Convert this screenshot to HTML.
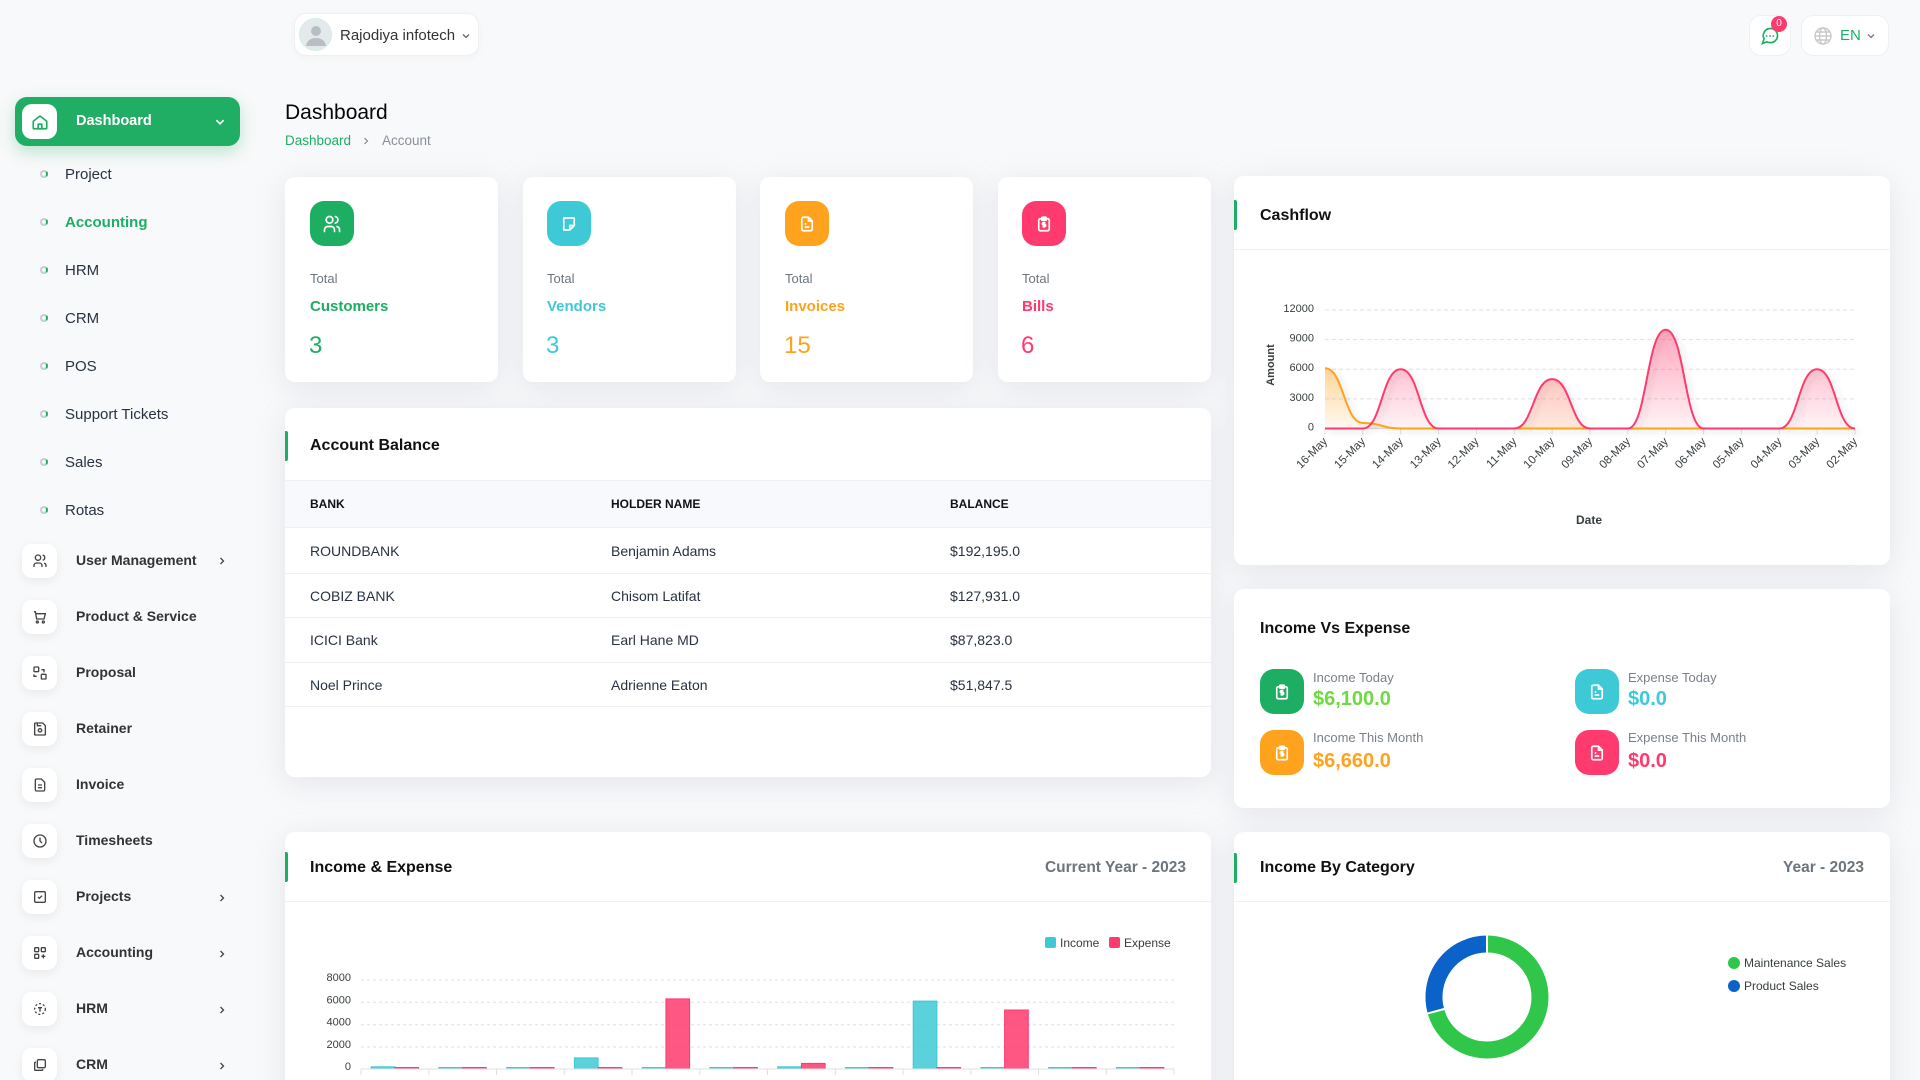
<!DOCTYPE html>
<html><head><meta charset="utf-8"><title>Dashboard</title>
<style>
*{box-sizing:border-box;margin:0;padding:0}
html,body{width:1920px;height:1080px;overflow:hidden}
body{background:#f8f9fa;font-family:"Liberation Sans",Arial,sans-serif;color:#293240;position:relative}
.t{position:absolute;white-space:nowrap;height:20px;line-height:20px}
.card{position:absolute;background:#fff;border-radius:10px;box-shadow:0 6px 30px rgba(182,186,203,.30)}
.gb{position:absolute;width:3px;height:30px;background:#1eae63;border-radius:0 2px 2px 0}
.ib{position:absolute;width:35px;height:34px;left:22px;background:#fff;border-radius:10px;box-shadow:0 3px 10px rgba(0,0,0,.07);display:flex;align-items:center;justify-content:center}
.mi{position:absolute;left:76px;font-size:14px;font-weight:700;color:#333;white-space:nowrap;height:20px;line-height:20px}
.si{position:absolute;left:65px;font-size:15px;color:#293240;height:20px;line-height:20px;white-space:nowrap}
.dot{position:absolute;left:40px;width:8px;height:8px;border-radius:50%;border:2px solid #c9cdd4;border-right-color:#1eae63}
.sq{position:absolute;width:44px;height:45px;border-radius:14px;display:flex;align-items:center;justify-content:center}
.th{position:absolute;font-size:12px;font-weight:700;color:#111;height:20px;line-height:20px}
.td{position:absolute;font-size:14px;color:#293240;height:20px;line-height:20px;white-space:nowrap}
.hl{position:absolute;left:285px;width:926px;height:1px;background:#eef0f3}
</style></head><body>

<!-- Header -->
<div style="position:absolute;left:294px;top:13px;width:185px;height:43px;background:#fff;border:1px solid #eef0f2;border-radius:12px;box-shadow:0 2px 8px rgba(0,0,0,.03)"></div>
<div style="position:absolute;left:299px;top:18px;width:33px;height:33px;border-radius:50%;background:#e4eaec;border:1px solid #d4efe0;overflow:hidden">
<svg width="33" height="33" viewBox="0 0 33 33"><circle cx="16" cy="12" r="5" fill="#b6bfc4"/><path d="M6 27c1-6 5-8 10-8s9 2 10 8z" fill="#b6bfc4"/></svg></div>
<div class="t" style="left:340px;top:26px;font-size:15px;color:#333">Rajodiya infotech</div>
<svg style="position:absolute;left:461px;top:31px" width="10" height="10" viewBox="0 0 10 10"><path d="M2 3.5l3 3 3-3" fill="none" stroke="#666" stroke-width="1.3"/></svg>

<div style="position:absolute;left:1749px;top:15px;width:42px;height:41px;background:#fff;border:1px solid #eef0f2;border-radius:12px"></div>
<svg style="position:absolute;left:1760px;top:26px" width="20" height="20" viewBox="0 0 24 24" fill="none" stroke="#1eae63" stroke-width="2"><path d="M21 11.5a8.4 8.4 0 0 1-9 8.4 8.5 8.5 0 0 1-3.8-.9L3 21l1.9-5.7A8.4 8.4 0 0 1 12 3a8.4 8.4 0 0 1 9 8.5z"/><path d="M8 12h.01M12 12h.01M16 12h.01" stroke-linecap="round" stroke-width="2.2"/></svg>
<div style="position:absolute;left:1771px;top:16px;width:16px;height:16px;border-radius:50%;background:#ff3a6e;color:#fff;font-size:10px;line-height:16px;text-align:center">0</div>

<div style="position:absolute;left:1801px;top:15px;width:88px;height:41px;background:#fff;border:1px solid #eef0f2;border-radius:12px"></div>
<svg style="position:absolute;left:1813px;top:26px" width="20" height="20" viewBox="0 0 20 20" fill="none" stroke="#c8c8c8" stroke-width="1.4"><circle cx="10" cy="10" r="8"/><ellipse cx="10" cy="10" rx="3.5" ry="8"/><path d="M2 10h16M3.5 6h13M3.5 14h13"/></svg>
<div class="t" style="left:1840px;top:26px;font-size:15px;color:#1eae63">EN</div>
<svg style="position:absolute;left:1866px;top:31px" width="10" height="10" viewBox="0 0 10 10"><path d="M2 3.5l3 3 3-3" fill="none" stroke="#777" stroke-width="1.3"/></svg>

<!-- Sidebar -->
<div style="position:absolute;left:15px;top:97px;width:225px;height:49px;background:#1fae64;border-radius:12px;box-shadow:0 6px 16px rgba(31,174,100,.28)"></div>
<div style="position:absolute;left:22px;top:104px;width:35px;height:35px;background:#fff;border-radius:10px;display:flex;align-items:center;justify-content:center">
<svg width="18" height="18" viewBox="0 0 24 24" fill="none" stroke="#1eae63" stroke-width="2.2" stroke-linejoin="round"><path d="M3 11l9-7 9 7v9a1 1 0 0 1-1 1H4a1 1 0 0 1-1-1z"/><path d="M9.5 21v-6h5v6"/></svg></div>
<div class="t" style="left:76px;top:111px;font-size:14.5px;font-weight:700;color:#fff">Dashboard</div>
<svg style="position:absolute;left:214px;top:116px" width="12" height="12" viewBox="0 0 10 10"><path d="M2 3.5l3 3 3-3" fill="none" stroke="#fff" stroke-width="1.4"/></svg>

<div class="dot" style="top:170px"></div><div class="si" style="top:165px">Project</div>
<div class="dot" style="top:218px"></div><div class="si" style="top:213px;color:#1eae63;font-weight:700">Accounting</div>
<div class="dot" style="top:266px"></div><div class="si" style="top:261px">HRM</div>
<div class="dot" style="top:314px"></div><div class="si" style="top:309px">CRM</div>
<div class="dot" style="top:362px"></div><div class="si" style="top:357px">POS</div>
<div class="dot" style="top:410px"></div><div class="si" style="top:405px">Support Tickets</div>
<div class="dot" style="top:458px"></div><div class="si" style="top:453px">Sales</div>
<div class="dot" style="top:506px"></div><div class="si" style="top:501px">Rotas</div>

<!-- main menu -->
<div class="ib" style="top:544px"><svg width="16" height="16" viewBox="0 0 24 24" fill="none" stroke="#444" stroke-width="2"><circle cx="9" cy="7" r="4"/><path d="M3 21v-2a4 4 0 0 1 4-4h4a4 4 0 0 1 4 4v2M16 3.1a4 4 0 0 1 0 7.8M21 21v-2a4 4 0 0 0-3-3.9"/></svg></div>
<div class="mi" style="top:550px">User Management</div>
<svg style="position:absolute;left:217px;top:556px" width="10" height="10" viewBox="0 0 10 10"><path d="M3.5 2l3 3-3 3" fill="none" stroke="#444" stroke-width="1.3"/></svg>

<div class="ib" style="top:600px"><svg width="16" height="16" viewBox="0 0 24 24" fill="none" stroke="#444" stroke-width="2"><path d="M3 4h2l2 11h11l2-8H6.5"/><circle cx="8" cy="19.5" r="1.5"/><circle cx="17" cy="19.5" r="1.5"/></svg></div>
<div class="mi" style="top:606px">Product &amp; Service</div>

<div class="ib" style="top:656px"><svg width="16" height="16" viewBox="0 0 24 24" fill="none" stroke="#444" stroke-width="2"><rect x="3" y="3" width="7" height="7" rx="1"/><rect x="14" y="14" width="7" height="7" rx="1"/><path d="M14 7h4v4M3 14v3h4"/></svg></div>
<div class="mi" style="top:662px">Proposal</div>

<div class="ib" style="top:712px"><svg width="16" height="16" viewBox="0 0 24 24" fill="none" stroke="#444" stroke-width="2"><path d="M5 3h11l4 4v13a1 1 0 0 1-1 1H5a1 1 0 0 1-1-1V4a1 1 0 0 1 1-1z"/><circle cx="12" cy="14" r="2.5"/><path d="M8 3v4h6"/></svg></div>
<div class="mi" style="top:718px">Retainer</div>

<div class="ib" style="top:768px"><svg width="16" height="16" viewBox="0 0 24 24" fill="none" stroke="#444" stroke-width="2"><path d="M14 3H7a2 2 0 0 0-2 2v14a2 2 0 0 0 2 2h10a2 2 0 0 0 2-2V8z"/><path d="M9 12h6M9 16h6"/></svg></div>
<div class="mi" style="top:774px">Invoice</div>

<div class="ib" style="top:824px"><svg width="16" height="16" viewBox="0 0 24 24" fill="none" stroke="#444" stroke-width="2"><circle cx="12" cy="12" r="9"/><path d="M12 7v5l3 3"/></svg></div>
<div class="mi" style="top:830px">Timesheets</div>

<div class="ib" style="top:880px"><svg width="16" height="16" viewBox="0 0 24 24" fill="none" stroke="#444" stroke-width="2"><rect x="4" y="4" width="16" height="16" rx="2"/><path d="M9 12l2 2 4-4"/></svg></div>
<div class="mi" style="top:886px">Projects</div>
<svg style="position:absolute;left:217px;top:893px" width="10" height="10" viewBox="0 0 10 10"><path d="M3.5 2l3 3-3 3" fill="none" stroke="#444" stroke-width="1.3"/></svg>

<div class="ib" style="top:936px"><svg width="16" height="16" viewBox="0 0 24 24" fill="none" stroke="#444" stroke-width="2"><rect x="4" y="4" width="6" height="6" rx="1"/><rect x="14" y="4" width="6" height="6" rx="1"/><rect x="4" y="14" width="6" height="6" rx="1"/><path d="M17 14v6M14 17h6"/></svg></div>
<div class="mi" style="top:942px">Accounting</div>
<svg style="position:absolute;left:217px;top:949px" width="10" height="10" viewBox="0 0 10 10"><path d="M3.5 2l3 3-3 3" fill="none" stroke="#444" stroke-width="1.3"/></svg>

<div class="ib" style="top:992px"><svg width="16" height="16" viewBox="0 0 24 24" fill="none" stroke="#444" stroke-width="2" stroke-dasharray="3 3"><circle cx="12" cy="12" r="8"/><path d="M9 10h6M12 10v6" stroke-dasharray="none"/></svg></div>
<div class="mi" style="top:998px">HRM</div>
<svg style="position:absolute;left:217px;top:1005px" width="10" height="10" viewBox="0 0 10 10"><path d="M3.5 2l3 3-3 3" fill="none" stroke="#444" stroke-width="1.3"/></svg>

<div class="ib" style="top:1048px"><svg width="16" height="16" viewBox="0 0 24 24" fill="none" stroke="#444" stroke-width="2"><rect x="8" y="4" width="12" height="12" rx="2"/><path d="M16 18v1a1 1 0 0 1-1 1H5a1 1 0 0 1-1-1V9a1 1 0 0 1 1-1h1"/></svg></div>
<div class="mi" style="top:1054px">CRM</div>
<svg style="position:absolute;left:217px;top:1061px" width="10" height="10" viewBox="0 0 10 10"><path d="M3.5 2l3 3-3 3" fill="none" stroke="#444" stroke-width="1.3"/></svg>

<!-- Title -->
<div class="t" style="left:285px;top:101px;height:24px;line-height:24px;font-size:21px;color:#060606">Dashboard</div>
<div class="t" style="left:285px;top:131px;font-size:13.5px;color:#1eae63">Dashboard</div>
<svg style="position:absolute;left:361px;top:136px" width="10" height="10" viewBox="0 0 10 10"><path d="M3.5 2l3 3-3 3" fill="none" stroke="#888" stroke-width="1.2"/></svg>
<div class="t" style="left:382px;top:131px;font-size:13.5px;color:#8a9099">Account</div>

<!-- Stat cards -->
<div class="card" style="left:285px;top:177px;width:213px;height:205px"></div>
<div class="card" style="left:523px;top:177px;width:213px;height:205px"></div>
<div class="card" style="left:760px;top:177px;width:213px;height:205px"></div>
<div class="card" style="left:998px;top:177px;width:213px;height:205px"></div>

<div class="sq" style="left:310px;top:201px;background:#1eae63"><svg width="20" height="20" viewBox="0 0 24 24" fill="none" stroke="#fff" stroke-width="2" stroke-linecap="round"><circle cx="9" cy="7" r="4"/><path d="M3 21v-2a4 4 0 0 1 4-4h4a4 4 0 0 1 4 4v2M16 3.1a4 4 0 0 1 0 7.8M21 21v-2a4 4 0 0 0-3-3.9"/></svg></div>
<div class="sq" style="left:547px;top:201px;background:#3ec9d6"><svg width="18" height="18" viewBox="0 0 24 24" fill="none" stroke="#fff" stroke-width="2.2" stroke-linejoin="round"><path d="M5 4h14v10l-6 6H5z"/><path d="M13 20v-6h6"/></svg></div>
<div class="sq" style="left:785px;top:201px;background:#ffa21d"><svg width="18" height="18" viewBox="0 0 24 24" fill="none" stroke="#fff" stroke-width="2.2"><path d="M14 3H7a2 2 0 0 0-2 2v14a2 2 0 0 0 2 2h10a2 2 0 0 0 2-2V8z"/><path d="M9 12h2M9 16h6M14 3v5h5"/></svg></div>
<div class="sq" style="left:1022px;top:201px;background:#ff3a6e"><svg width="18" height="18" viewBox="0 0 24 24" fill="none" stroke="#fff" stroke-width="2.2"><rect x="5" y="5" width="14" height="16" rx="2"/><rect x="9" y="3" width="6" height="4" rx="1"/><path d="M14 10.5h-3a1.2 1.2 0 0 0 0 2.5h2a1.2 1.2 0 0 1 0 2.5h-3M12 9v8"/></svg></div>

<div class="t" style="left:310px;top:269px;font-size:13px;color:#6c757d">Total</div>
<div class="t" style="left:310px;top:297px;font-size:15px;font-weight:700;color:#1eae63">Customers</div>
<div class="t" style="left:309px;top:333px;height:26px;line-height:26px;font-size:24px;color:#1eae63">3</div>

<div class="t" style="left:547px;top:269px;font-size:13px;color:#6c757d">Total</div>
<div class="t" style="left:547px;top:297px;font-size:15px;font-weight:700;color:#3ec9d6">Vendors</div>
<div class="t" style="left:546px;top:333px;height:26px;line-height:26px;font-size:24px;color:#3ec9d6">3</div>

<div class="t" style="left:785px;top:269px;font-size:13px;color:#6c757d">Total</div>
<div class="t" style="left:785px;top:297px;font-size:15px;font-weight:700;color:#ffa21d">Invoices</div>
<div class="t" style="left:784px;top:333px;height:26px;line-height:26px;font-size:24px;color:#ffa21d">15</div>

<div class="t" style="left:1022px;top:269px;font-size:13px;color:#6c757d">Total</div>
<div class="t" style="left:1022px;top:297px;font-size:15px;font-weight:700;color:#ff3a6e">Bills</div>
<div class="t" style="left:1021px;top:333px;height:26px;line-height:26px;font-size:24px;color:#ff3a6e">6</div>

<!-- Account Balance -->
<div class="card" style="left:285px;top:408px;width:926px;height:369px;overflow:hidden">
  <div style="position:absolute;left:0;top:72px;width:926px;height:48px;background:#f8f9fd;border-top:1px solid #eef0f3;border-bottom:1px solid #eef0f3"></div>
</div>
<div class="gb" style="left:285px;top:431px"></div>
<div class="t" style="left:310px;top:436px;font-size:16px;font-weight:700;color:#111">Account Balance</div>
<div class="th" style="left:310px;top:494px">BANK</div>
<div class="th" style="left:611px;top:494px">HOLDER NAME</div>
<div class="th" style="left:950px;top:494px">BALANCE</div>
<div class="td" style="left:310px;top:541px">ROUNDBANK</div><div class="td" style="left:611px;top:541px">Benjamin Adams</div><div class="td" style="left:950px;top:541px">$192,195.0</div>
<div class="hl" style="top:573px"></div>
<div class="td" style="left:310px;top:586px">COBIZ BANK</div><div class="td" style="left:611px;top:586px">Chisom Latifat</div><div class="td" style="left:950px;top:586px">$127,931.0</div>
<div class="hl" style="top:617px"></div>
<div class="td" style="left:310px;top:630px">ICICI Bank</div><div class="td" style="left:611px;top:630px">Earl Hane MD</div><div class="td" style="left:950px;top:630px">$87,823.0</div>
<div class="hl" style="top:662px"></div>
<div class="td" style="left:310px;top:675px">Noel Prince</div><div class="td" style="left:611px;top:675px">Adrienne Eaton</div><div class="td" style="left:950px;top:675px">$51,847.5</div>
<div class="hl" style="top:706px"></div>

<!-- Cashflow -->
<div class="card" style="left:1234px;top:176px;width:656px;height:389px"></div>
<div class="gb" style="left:1234px;top:200px"></div>
<div class="t" style="left:1260px;top:206px;font-size:16px;font-weight:700;color:#111">Cashflow</div>
<div style="position:absolute;left:1234px;top:249px;width:656px;height:1px;background:#eef0f3"></div>

<!-- Income Vs Expense -->
<div class="card" style="left:1234px;top:589px;width:656px;height:219px"></div>
<div class="t" style="left:1260px;top:619px;font-size:16px;font-weight:700;color:#111">Income Vs Expense</div>
<div class="sq" style="left:1260px;top:669px;background:#1eae63"><svg width="18" height="18" viewBox="0 0 24 24" fill="none" stroke="#fff" stroke-width="2.2"><rect x="5" y="5" width="14" height="16" rx="2"/><rect x="9" y="3" width="6" height="4" rx="1"/><path d="M14 10.5h-3a1.2 1.2 0 0 0 0 2.5h2a1.2 1.2 0 0 1 0 2.5h-3M12 9v8"/></svg></div>
<div class="sq" style="left:1260px;top:730px;background:#ffa21d"><svg width="18" height="18" viewBox="0 0 24 24" fill="none" stroke="#fff" stroke-width="2.2"><rect x="5" y="5" width="14" height="16" rx="2"/><rect x="9" y="3" width="6" height="4" rx="1"/><path d="M14 10.5h-3a1.2 1.2 0 0 0 0 2.5h2a1.2 1.2 0 0 1 0 2.5h-3M12 9v8"/></svg></div>
<div class="sq" style="left:1575px;top:669px;background:#3ec9d6"><svg width="18" height="18" viewBox="0 0 24 24" fill="none" stroke="#fff" stroke-width="2.2"><path d="M14 3H7a2 2 0 0 0-2 2v14a2 2 0 0 0 2 2h10a2 2 0 0 0 2-2V8z"/><path d="M9 12h2M9 16h6M14 3v5h5"/></svg></div>
<div class="sq" style="left:1575px;top:730px;background:#ff3a6e"><svg width="18" height="18" viewBox="0 0 24 24" fill="none" stroke="#fff" stroke-width="2.2"><path d="M14 3H7a2 2 0 0 0-2 2v14a2 2 0 0 0 2 2h10a2 2 0 0 0 2-2V8z"/><path d="M9 12h2M9 16h6M14 3v5h5"/></svg></div>
<div class="t" style="left:1313px;top:668px;font-size:13px;color:#7a8087">Income Today</div>
<div class="t" style="left:1313px;top:687px;height:24px;line-height:24px;font-size:20px;font-weight:700;color:#6fd943">$6,100.0</div>
<div class="t" style="left:1313px;top:728px;font-size:13px;color:#7a8087">Income This Month</div>
<div class="t" style="left:1313px;top:749px;height:24px;line-height:24px;font-size:20px;font-weight:700;color:#ffa21d">$6,660.0</div>
<div class="t" style="left:1628px;top:668px;font-size:13px;color:#7a8087">Expense Today</div>
<div class="t" style="left:1628px;top:687px;height:24px;line-height:24px;font-size:20px;font-weight:700;color:#3ec9d6">$0.0</div>
<div class="t" style="left:1628px;top:728px;font-size:13px;color:#7a8087">Expense This Month</div>
<div class="t" style="left:1628px;top:749px;height:24px;line-height:24px;font-size:20px;font-weight:700;color:#ff3a6e">$0.0</div>

<!-- Income & Expense -->
<div class="card" style="left:285px;top:832px;width:926px;height:300px"></div>
<div class="gb" style="left:285px;top:852px"></div>
<div class="t" style="left:310px;top:858px;font-size:16px;font-weight:700;color:#111">Income &amp; Expense</div>
<div class="t" style="left:1036px;width:150px;text-align:right;top:858px;font-size:15.5px;font-weight:700;color:#6c757d">Current Year - 2023</div>
<div style="position:absolute;left:285px;top:901px;width:926px;height:1px;background:#eef0f3"></div>

<!-- Income By Category -->
<div class="card" style="left:1234px;top:832px;width:656px;height:300px"></div>
<div class="gb" style="left:1234px;top:853px"></div>
<div class="t" style="left:1260px;top:858px;font-size:16px;font-weight:700;color:#111">Income By Category</div>
<div class="t" style="left:1744px;width:120px;text-align:right;top:858px;font-size:15.5px;font-weight:700;color:#6c757d">Year - 2023</div>
<div style="position:absolute;left:1234px;top:901px;width:656px;height:1px;background:#eef0f3"></div>

<!-- Charts overlay -->
<svg style="position:absolute;left:0;top:0" width="1920" height="1080" font-family="Liberation Sans, Arial, sans-serif">
<defs>
<linearGradient id="gp" x1="0" y1="0" x2="0" y2="1"><stop offset="0" stop-color="#ff3a6e" stop-opacity=".45"/><stop offset="1" stop-color="#ff3a6e" stop-opacity=".06"/></linearGradient>
<linearGradient id="go" x1="0" y1="0" x2="0" y2="1"><stop offset="0" stop-color="#ffa21d" stop-opacity=".45"/><stop offset="1" stop-color="#ffa21d" stop-opacity=".06"/></linearGradient>
<filter id="sh" x="-20%" y="-20%" width="140%" height="140%"><feDropShadow dx="4" dy="3" stdDeviation="3" flood-color="#000" flood-opacity=".12"/></filter>
</defs>

<!-- Cashflow grid -->
<g stroke="#e0e0e0" stroke-width="1" stroke-dasharray="4 3">
<line x1="1325" y1="310" x2="1855" y2="310"/>
<line x1="1325" y1="339.6" x2="1855" y2="339.6"/>
<line x1="1325" y1="369.2" x2="1855" y2="369.2"/>
<line x1="1325" y1="398.9" x2="1855" y2="398.9"/>
</g>
<line x1="1325" y1="428.5" x2="1855" y2="428.5" stroke="#e0e0e0"/>
<g stroke="#e0e0e0">
<line x1="1325" y1="428.5" x2="1325" y2="434.5"/><line x1="1362.9" y1="428.5" x2="1362.9" y2="434.5"/><line x1="1400.7" y1="428.5" x2="1400.7" y2="434.5"/><line x1="1438.6" y1="428.5" x2="1438.6" y2="434.5"/><line x1="1476.4" y1="428.5" x2="1476.4" y2="434.5"/><line x1="1514.3" y1="428.5" x2="1514.3" y2="434.5"/><line x1="1552.1" y1="428.5" x2="1552.1" y2="434.5"/><line x1="1590" y1="428.5" x2="1590" y2="434.5"/><line x1="1627.9" y1="428.5" x2="1627.9" y2="434.5"/><line x1="1665.7" y1="428.5" x2="1665.7" y2="434.5"/><line x1="1703.6" y1="428.5" x2="1703.6" y2="434.5"/><line x1="1741.4" y1="428.5" x2="1741.4" y2="434.5"/><line x1="1779.3" y1="428.5" x2="1779.3" y2="434.5"/><line x1="1817.1" y1="428.5" x2="1817.1" y2="434.5"/><line x1="1855" y1="428.5" x2="1855" y2="434.5"/>
</g>
<g font-size="11" fill="#373d3f" text-anchor="end">
<text x="1314" y="312">12000</text><text x="1314" y="341.6">9000</text><text x="1314" y="371.2">6000</text><text x="1314" y="400.9">3000</text><text x="1314" y="430.5">0</text>
</g>
<g font-size="11.5" fill="#373d3f" text-anchor="end">
<text x="1328" y="442" transform="rotate(-45 1328 442)">16-May</text>
<text x="1365.9" y="442" transform="rotate(-45 1365.9 442)">15-May</text>
<text x="1403.7" y="442" transform="rotate(-45 1403.7 442)">14-May</text>
<text x="1441.6" y="442" transform="rotate(-45 1441.6 442)">13-May</text>
<text x="1479.4" y="442" transform="rotate(-45 1479.4 442)">12-May</text>
<text x="1517.3" y="442" transform="rotate(-45 1517.3 442)">11-May</text>
<text x="1555.1" y="442" transform="rotate(-45 1555.1 442)">10-May</text>
<text x="1593" y="442" transform="rotate(-45 1593 442)">09-May</text>
<text x="1630.9" y="442" transform="rotate(-45 1630.9 442)">08-May</text>
<text x="1668.7" y="442" transform="rotate(-45 1668.7 442)">07-May</text>
<text x="1706.6" y="442" transform="rotate(-45 1706.6 442)">06-May</text>
<text x="1744.4" y="442" transform="rotate(-45 1744.4 442)">05-May</text>
<text x="1782.3" y="442" transform="rotate(-45 1782.3 442)">04-May</text>
<text x="1820.1" y="442" transform="rotate(-45 1820.1 442)">03-May</text>
<text x="1858" y="442" transform="rotate(-45 1858 442)">02-May</text>
</g>
<text x="1589" y="524" font-size="12" font-weight="700" fill="#373d3f" text-anchor="middle">Date</text>
<text x="1274" y="365" font-size="11" font-weight="700" fill="#373d3f" text-anchor="middle" transform="rotate(-90 1274 365)">Amount</text>

<!-- income series -->
<path d="M1325,368.3 C1343.9,368.3 1343.9,423 1362.9,423 C1381.8,423 1381.8,428.5 1400.7,428.5 L1855,428.5 L1325,428.5 Z" fill="url(#go)"/>
<!-- expense series -->
<path d="M1325,428.5 L1362.9,428.5 C1381.8,428.5 1381.8,369.2 1400.7,369.2 C1419.6,369.2 1419.6,428.5 1438.6,428.5 L1514.3,428.5 C1533.2,428.5 1533.2,379.1 1552.1,379.1 C1571,379.1 1571,428.5 1590,428.5 L1627.9,428.5 C1646.8,428.5 1646.8,329.7 1665.7,329.7 C1684.6,329.7 1684.6,428.5 1703.6,428.5 L1779.3,428.5 C1798.2,428.5 1798.2,369.2 1817.1,369.2 C1836,369.2 1836,428.5 1855,428.5 Z" fill="url(#gp)"/>
<path d="M1514.3,428.5 C1533.2,428.5 1533.2,379.1 1552.1,379.1 C1571,379.1 1571,428.5 1590,428.5 Z" fill="#ffa21d" fill-opacity=".12"/>
<g filter="url(#sh)" fill="none" stroke-width="2">
<path d="M1325,368.3 C1343.9,368.3 1343.9,423 1362.9,423 C1381.8,423 1381.8,428.5 1400.7,428.5 L1855,428.5" stroke="#ffa21d"/>
<path d="M1325,428.5 L1362.9,428.5 C1381.8,428.5 1381.8,369.2 1400.7,369.2 C1419.6,369.2 1419.6,428.5 1438.6,428.5 L1514.3,428.5 C1533.2,428.5 1533.2,379.1 1552.1,379.1 C1571,379.1 1571,428.5 1590,428.5 L1627.9,428.5 C1646.8,428.5 1646.8,329.7 1665.7,329.7 C1684.6,329.7 1684.6,428.5 1703.6,428.5 L1779.3,428.5 C1798.2,428.5 1798.2,369.2 1817.1,369.2 C1836,369.2 1836,428.5 1855,428.5" stroke="#ff3a6e"/>
</g>

<!-- Bar chart -->
<rect x="1045" y="937" width="11" height="11" rx="2" fill="#3ec9d6"/>
<text x="1060" y="947" font-size="12" fill="#373d3f">Income</text>
<rect x="1109" y="937" width="11" height="11" rx="2" fill="#ff3a6e"/>
<text x="1124" y="947" font-size="12" fill="#373d3f">Expense</text>
<g stroke="#e0e0e0" stroke-dasharray="3 3">
<line x1="361" y1="980" x2="1174" y2="980"/><line x1="361" y1="1002.3" x2="1174" y2="1002.3"/><line x1="361" y1="1024.7" x2="1174" y2="1024.7"/><line x1="361" y1="1047" x2="1174" y2="1047"/>
</g>
<g font-size="11" fill="#373d3f" text-anchor="end">
<text x="351" y="981">8000</text><text x="351" y="1003.3">6000</text><text x="351" y="1025.7">4000</text><text x="351" y="1048">2000</text><text x="351" y="1070">0</text>
</g>
<g fill="#3ec9d6" fill-opacity=".85" stroke="#3ec9d6" stroke-width="1">
<rect x="371.2" y="1066.8" width="23.7" height="2.2"/>
<rect x="438.9" y="1067.5" width="23.7" height="1.5"/>
<rect x="506.7" y="1067.5" width="23.7" height="1.5"/>
<rect x="574.4" y="1057.9" width="23.7" height="11.1"/>
<rect x="642.2" y="1067.5" width="23.7" height="1.5"/>
<rect x="709.9" y="1067.5" width="23.7" height="1.5"/>
<rect x="777.7" y="1066.8" width="23.7" height="2.2"/>
<rect x="845.4" y="1067.5" width="23.7" height="1.5"/>
<rect x="913.2" y="1001.1" width="23.7" height="67.9"/>
<rect x="980.9" y="1067.5" width="23.7" height="1.5"/>
<rect x="1048.7" y="1067.5" width="23.7" height="1.5"/>
<rect x="1116.4" y="1067.5" width="23.7" height="1.5"/>
</g>
<g fill="#ff3a6e" fill-opacity=".85" stroke="#ff3a6e" stroke-width="1">
<rect x="394.9" y="1067.5" width="23.7" height="1.5"/>
<rect x="462.6" y="1067.5" width="23.7" height="1.5"/>
<rect x="530.4" y="1067.5" width="23.7" height="1.5"/>
<rect x="598.1" y="1067.5" width="23.7" height="1.5"/>
<rect x="665.9" y="998.9" width="23.7" height="70.1"/>
<rect x="733.6" y="1067.5" width="23.7" height="1.5"/>
<rect x="801.4" y="1063.4" width="23.7" height="5.6"/>
<rect x="869.1" y="1067.5" width="23.7" height="1.5"/>
<rect x="936.9" y="1067.5" width="23.7" height="1.5"/>
<rect x="1004.6" y="1010" width="23.7" height="59"/>
<rect x="1072.4" y="1067.5" width="23.7" height="1.5"/>
<rect x="1140.1" y="1067.5" width="23.7" height="1.5"/>
</g>
<line x1="361" y1="1069" x2="1174" y2="1069" stroke="#e0e0e0"/>
<g stroke="#e0e0e0">
<line x1="361" y1="1069" x2="361" y2="1075"/><line x1="428.8" y1="1069" x2="428.8" y2="1075"/><line x1="496.5" y1="1069" x2="496.5" y2="1075"/><line x1="564.3" y1="1069" x2="564.3" y2="1075"/><line x1="632" y1="1069" x2="632" y2="1075"/><line x1="699.8" y1="1069" x2="699.8" y2="1075"/><line x1="767.5" y1="1069" x2="767.5" y2="1075"/><line x1="835.3" y1="1069" x2="835.3" y2="1075"/><line x1="903" y1="1069" x2="903" y2="1075"/><line x1="970.8" y1="1069" x2="970.8" y2="1075"/><line x1="1038.5" y1="1069" x2="1038.5" y2="1075"/><line x1="1106.3" y1="1069" x2="1106.3" y2="1075"/><line x1="1174" y1="1069" x2="1174" y2="1075"/>
</g>

<!-- Donut -->
<path d="M1487,944 A53,53 0 0 0 1435.9,1011.2" fill="none" stroke="#0b63c9" stroke-width="17"/>
<path d="M1435.9,1011.2 A53,53 0 1 0 1487,944" fill="none" stroke="#2fc64a" stroke-width="17"/>
<line x1="1487" y1="934" x2="1487" y2="954" stroke="#fff" stroke-width="2"/>
<line x1="1426.3" y1="1013.8" x2="1445.5" y2="1008.6" stroke="#fff" stroke-width="2"/>
<circle cx="1734" cy="963" r="6" fill="#2fc64a"/>
<text x="1744" y="967" font-size="12" fill="#373d3f">Maintenance Sales</text>
<circle cx="1734" cy="986" r="6" fill="#0b63c9"/>
<text x="1744" y="990" font-size="12" fill="#373d3f">Product Sales</text>
</svg>
</body></html>
